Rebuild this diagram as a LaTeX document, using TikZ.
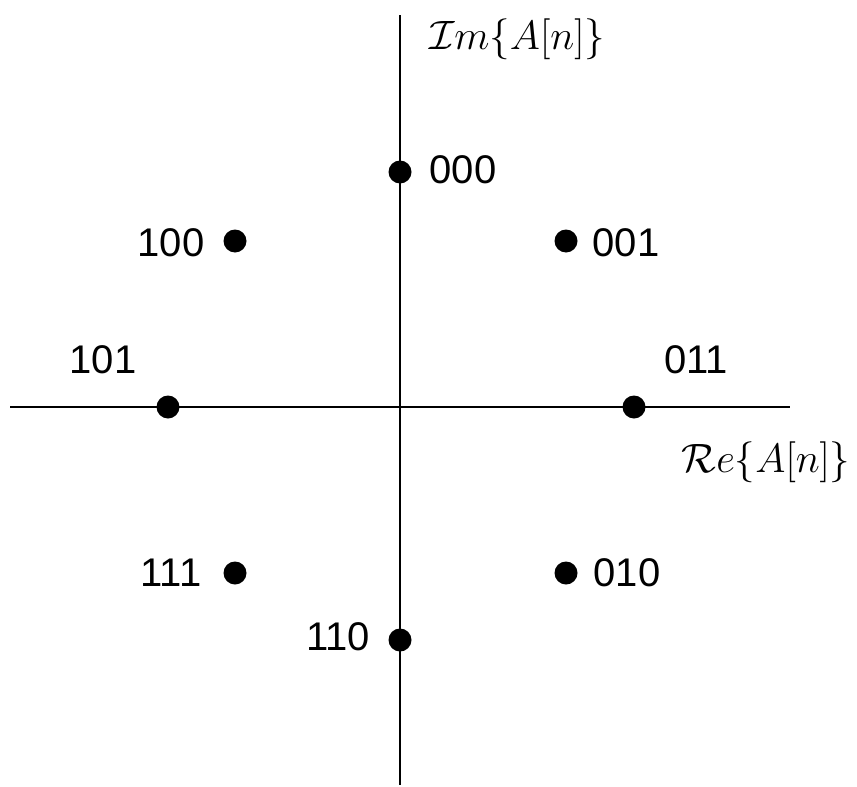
\documentclass[tikz,border=0pt]{standalone}
\usepackage{fix-cm}
\usepackage{fontspec}
\newfontfamily\lblfont{Liberation Sans}
\tikzset{
  axis/.style={line width=1.6pt},
  pt/.style={circle, fill=black, inner sep=0pt, minimum size=23pt},
  bits/.style={font=\lblfont\fontsize{40}{44}\selectfont, inner sep=0pt, anchor=center},
  axlbl/.style={font=\fontsize{41}{46}\selectfont, inner sep=0pt, anchor=center}
}
\begin{document}
\begin{tikzpicture}[x=1pt,y=-1pt]
\useasboundingbox (0,0) rectangle (857,787);
\coordinate (xl) at (10,407);
\coordinate (xr) at (790,407);
\coordinate (yt) at (400,15);
\coordinate (yb) at (400,785);
\draw[axis] (xl) -- (xr);
\draw[axis] (yt) -- (yb);
\node[pt] (p000) at (400,172) {};
\node[pt] (p001) at (566,241) {};
\node[pt] (p011) at (634,407) {};
\node[pt] (p010) at (566,573) {};
\node[pt] (p110) at (400,640) {};
\node[pt] (p111) at (235,573) {};
\node[pt] (p101) at (168,407) {};
\node[pt] (p100) at (235,241) {};
\node[bits] (l000) at (463,170) {000};
\node[bits] (l001) at (626,243) {001};
\node[bits] (l100) at (171,243) {100};
\node[bits] (l101) at (103,360) {101};
\node[bits] (l011) at (696,360) {011};
\node[bits] (l111) at (171,573) {111};
\node[bits] (l010) at (627,573) {010};
\node[bits] (l110) at (338,637) {110};
\node[axlbl] (im) at (517,39) {$\mathcal{I}m\{A[n]\}$};
\node[axlbl] (re) at (766,462) {$\mathcal{R}e\{A[n]\}$};
\end{tikzpicture}
\end{document}
